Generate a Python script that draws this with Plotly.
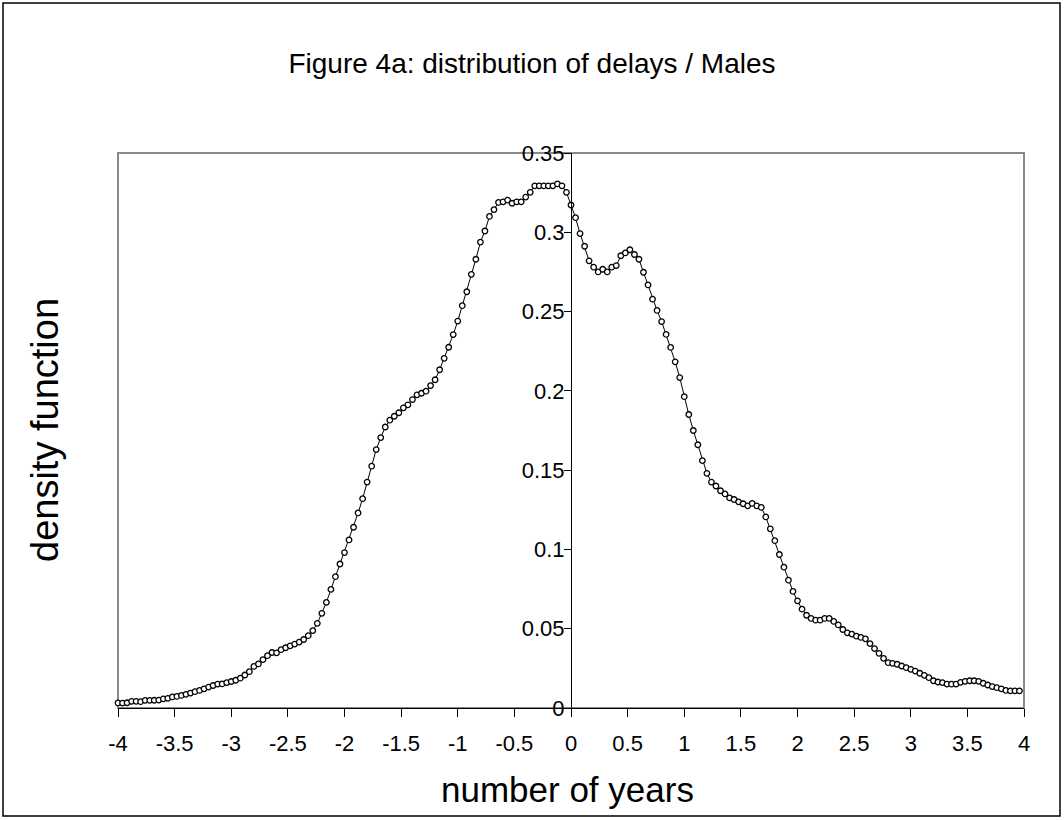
import plotly.graph_objects as go

# ---- data ----
x_start = -4.0
x_step = 0.04
density = [
    0.0032, 0.0031, 0.0033, 0.0042, 0.0042, 0.0040, 0.0048, 0.0048, 0.0049, 0.0050,
    0.0058, 0.0061, 0.0070, 0.0073, 0.0079, 0.0086, 0.0094, 0.0103, 0.0111, 0.0121,
    0.0132, 0.0142, 0.0151, 0.0152, 0.0160, 0.0167, 0.0175, 0.0188, 0.0208, 0.0229,
    0.0262, 0.0278, 0.0305, 0.0330, 0.0350, 0.0348, 0.0368, 0.0380, 0.0392, 0.0403,
    0.0416, 0.0432, 0.0456, 0.0488, 0.0534, 0.0597, 0.0666, 0.0748, 0.0828, 0.0908,
    0.0980, 0.1060, 0.1140, 0.1230, 0.1320, 0.1425, 0.1525, 0.1630, 0.1705, 0.1772,
    0.1815, 0.1840, 0.1862, 0.1893, 0.1912, 0.1945, 0.1975, 0.1985, 0.1998, 0.2033,
    0.2070, 0.2133, 0.2205, 0.2275, 0.2355, 0.2440, 0.2537, 0.2625, 0.2735, 0.2830,
    0.2938, 0.3008, 0.3100, 0.3143, 0.3188, 0.3192, 0.3203, 0.3183, 0.3192, 0.3192,
    0.3222, 0.3252, 0.3293, 0.3293, 0.3293, 0.3293, 0.3293, 0.3305, 0.3293, 0.3252,
    0.3172, 0.3092, 0.2992, 0.2912, 0.2820, 0.2780, 0.2750, 0.2767, 0.2750, 0.2780,
    0.2790, 0.2852, 0.2870, 0.2890, 0.2860, 0.2830, 0.2748, 0.2668, 0.2578, 0.2507,
    0.2437, 0.2356, 0.2274, 0.2183, 0.2084, 0.1963, 0.1851, 0.1750, 0.1660, 0.1560,
    0.1480, 0.1425, 0.1400, 0.1370, 0.1350, 0.1325, 0.1315, 0.1300, 0.1288, 0.1275,
    0.1290, 0.1275, 0.1265, 0.1205, 0.1130, 0.1055, 0.0968, 0.0888, 0.0806, 0.0735,
    0.0676, 0.0623, 0.0585, 0.0565, 0.0554, 0.0554, 0.0565, 0.0565, 0.0546, 0.0524,
    0.0495, 0.0474, 0.0466, 0.0453, 0.0445, 0.0436, 0.0406, 0.0375, 0.0345, 0.0313,
    0.0286, 0.0282, 0.0276, 0.0265, 0.0254, 0.0244, 0.0233, 0.0219, 0.0206, 0.0191,
    0.0172, 0.0164, 0.0160, 0.0151, 0.0150, 0.0151, 0.0162, 0.0168, 0.0172, 0.0172,
    0.0168, 0.0156, 0.0145, 0.0135, 0.0128, 0.0121, 0.0111, 0.0108, 0.0108, 0.0108,
]
years = [round(x_start + x_step * i, 2) for i in range(len(density))]

x_tick_vals = [-4, -3.5, -3, -2.5, -2, -1.5, -1, -0.5, 0, 0.5, 1, 1.5, 2, 2.5, 3, 3.5, 4]
x_tick_text = ["-4", "-3.5", "-3", "-2.5", "-2", "-1.5", "-1", "-0.5", "0",
               "0.5", "1", "1.5", "2", "2.5", "3", "3.5", "4"]
y_tick_vals = [0, 0.05, 0.1, 0.15, 0.2, 0.25, 0.3, 0.35]
y_tick_text = ["0", "0.05", "0.1", "0.15", "0.2", "0.25", "0.3", "0.35"]

title_text = "Figure 4a: distribution of delays / Males"
x_title = "number of years"
y_title = "density function"

# ---- layout geometry (pixels) ----
W, H = 1064, 820
PL, PR, PT, PB = 118, 1024, 153, 708
FONT = "Arial, 'Liberation Sans', sans-serif"


def px2paper_x(px):
    return (px - PL) / (PR - PL)


def px2paper_y(py):
    return (PB - py) / (PB - PT)


fig = go.Figure()
fig.add_trace(go.Scatter(
    x=years, y=density, mode="lines+markers",
    line=dict(color="black", width=1),
    marker=dict(symbol="circle", size=5.5, color="white",
                line=dict(color="black", width=1.3)),
    cliponaxis=False, showlegend=False,
))

fig.update_layout(
    width=W, height=H,
    margin=dict(l=PL, r=W - PR, t=PT, b=H - PB, pad=0),
    paper_bgcolor="white", plot_bgcolor="white",
    font=dict(family=FONT, color="black", size=22),
    title=dict(text=title_text, x=0.5, xref="container", xanchor="center",
               y=1 - 63 / H, yref="container", yanchor="middle",
               font=dict(size=28, family=FONT, color="black")),
    xaxis=dict(range=[-4, 4], tickvals=x_tick_vals, ticktext=x_tick_text,
               showgrid=False, zeroline=False, showline=True, linecolor="black",
               linewidth=1, ticks="outside", ticklen=8, tickcolor="black",
               tickwidth=1, tickfont=dict(size=22, family=FONT, color="black"),
               ticklabelstandoff=8, mirror=False),
    yaxis=dict(range=[0, 0.35], tickvals=y_tick_vals, ticktext=y_tick_text,
               showgrid=False, zeroline=False, showline=True, linecolor="black",
               linewidth=1, ticks="outside", ticklen=7, tickcolor="black",
               tickwidth=1, tickfont=dict(size=22, family=FONT, color="black"),
               anchor="free", position=0.5, ticklabelstandoff=-5),
)

# plot-area border (gray) on top, left, right
fig.add_shape(type="rect", xref="paper", yref="paper", x0=0, x1=1, y0=0, y1=1,
              line=dict(color="#8a8a8a", width=2), layer="below")
# outer chart border
fig.add_shape(type="rect", xref="paper", yref="paper",
              x0=px2paper_x(3), x1=px2paper_x(1060),
              y0=px2paper_y(816), y1=px2paper_y(3),
              line=dict(color="black", width=1.5))

fig.add_annotation(text=x_title, xref="paper", yref="paper",
                   x=px2paper_x(567), y=px2paper_y(789),
                   showarrow=False, xanchor="center", yanchor="middle",
                   font=dict(size=35, family=FONT, color="black"))
fig.add_annotation(text=y_title, xref="paper", yref="paper",
                   x=px2paper_x(45), y=px2paper_y(430),
                   showarrow=False, xanchor="center", yanchor="middle",
                   textangle=-90,
                   font=dict(size=38, family=FONT, color="black"))

fig.write_html("out.html")
